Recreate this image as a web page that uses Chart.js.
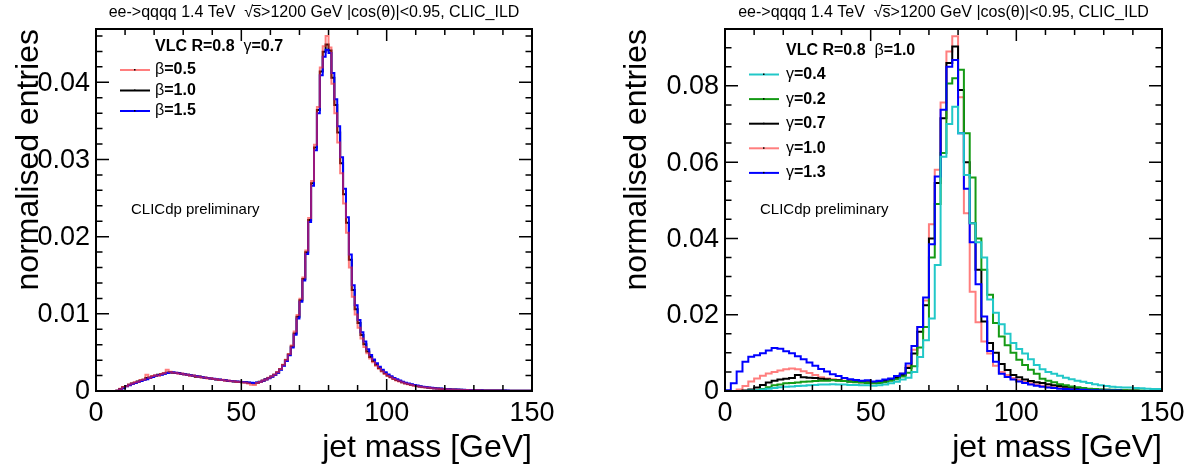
<html>

<head>
    <meta charset="utf-8">
    <title>jet mass</title>
    <script src="https://cdn.jsdelivr.net/npm/chart.js@4.4.1/dist/chart.umd.min.js"></script>
    <style>
        body {
            margin: 0;
            background: #fff;
        }

        #wrap {
            position: relative;
            width: 1198px;
            height: 469px;
        }

        canvas {
            position: absolute;
            top: 0;
        }
    </style>
</head>

<body>
    <div id="wrap">
        <canvas id="chartBeta" width="600" height="469" style="left:0px"></canvas>
        <canvas id="chartGamma" width="598" height="469" style="left:600px"></canvas>
    </div>

    <script>
        // ---- data (normalised entries per bin) ----
        const xTickValues = [0, 50, 100, 150];
        const xTickLabels = ['0', '50', '100', '150'];

        const betaYTickValues = [0, 0.01, 0.02, 0.03, 0.04];
        const betaYTickLabels = ['0', '0.01', '0.02', '0.03', '0.04'];
        const gammaYTickValues = [0, 0.02, 0.04, 0.06, 0.08];
        const gammaYTickLabels = ['0', '0.02', '0.04', '0.06', '0.08'];

        const betaBinWidth = 1;   // GeV
        const gammaBinWidth = 2;  // GeV

        const betaLabels = ['0.5', '1.0', '1.5'];
        const gammaLabels = ['0.4', '0.2', '0.7', '1.0', '1.3'];

        // left pad: VLC R=0.8 gamma=0.7, 1 GeV bins
        const beta05 = [0, 0, 0, 0, 0, 0, 0, 0, 0.00006, 0.00028,
            0.00052, 0.00063, 0.00085, 0.00096, 0.00112, 0.00121, 0.00141, 0.00150, 0.00209, 0.00172,
            0.00194, 0.00205, 0.00199, 0.00221, 0.00233, 0.00276, 0.00251, 0.00237, 0.00235, 0.00224,
            0.00226, 0.00213, 0.00211, 0.00199, 0.00201, 0.00187, 0.00185, 0.00176, 0.00174, 0.00163,
            0.00165, 0.00154, 0.00152, 0.00143, 0.00145, 0.00134, 0.00136, 0.00125, 0.00127, 0.00118,
            0.00120, 0.00111, 0.00106, 0.00097, 0.00082, 0.00079, 0.00103, 0.00116, 0.00137, 0.00149,
            0.00171, 0.00192, 0.00215, 0.00245, 0.00286, 0.00341, 0.00405, 0.00480, 0.00590, 0.00770,
            0.00985, 0.01195, 0.01470, 0.01820, 0.02240, 0.02720, 0.03190, 0.03680, 0.04190, 0.04465,
            0.04600, 0.04450, 0.03980, 0.03600, 0.03220, 0.02820, 0.02430, 0.02050, 0.01600, 0.01220,
            0.00990, 0.00820, 0.00680, 0.00570, 0.00490, 0.00422, 0.00372, 0.00328, 0.00288, 0.00252,
            0.00221, 0.00195, 0.00174, 0.00154, 0.00137, 0.00123, 0.00109, 0.00097, 0.00087, 0.00078,
            0.00069, 0.00063, 0.00056, 0.00050, 0.00046, 0.00041, 0.00037, 0.00033, 0.00030, 0.00027,
            0.00025, 0.00023, 0.00021, 0.00019, 0.00017, 0.00016, 0.00014, 0.00013, 0.00012, 0.00011,
            0.00010, 0.00009, 0.00009, 0.00008, 0.00007, 0.00007, 0.00006, 0.00006, 0.00005, 0.00005,
            0.00004, 0.00004, 0.00004, 0.00003, 0.00003, 0.00003, 0.00003, 0.00002, 0.00002, 0.00002];
        const beta10 = [0, 0, 0, 0, 0, 0, 0, 0, 0.00004, 0.00025,
            0.00048, 0.00066, 0.00081, 0.00098, 0.00106, 0.00124, 0.00137, 0.00146, 0.00168, 0.00176,
            0.00188, 0.00198, 0.00212, 0.00217, 0.00228, 0.00238, 0.00244, 0.00236, 0.00232, 0.00233,
            0.00221, 0.00218, 0.00209, 0.00203, 0.00197, 0.00186, 0.00188, 0.00179, 0.00171, 0.00168,
            0.00161, 0.00157, 0.00150, 0.00147, 0.00141, 0.00138, 0.00131, 0.00128, 0.00124, 0.00121,
            0.00118, 0.00114, 0.00112, 0.00108, 0.00104, 0.00101, 0.00108, 0.00119, 0.00134, 0.00151,
            0.00168, 0.00189, 0.00212, 0.00241, 0.00281, 0.00335, 0.00398, 0.00472, 0.00576, 0.00745,
            0.00962, 0.01175, 0.01452, 0.01798, 0.02215, 0.02690, 0.03155, 0.03640, 0.04140, 0.04395,
            0.04490, 0.04410, 0.04060, 0.03705, 0.03350, 0.02950, 0.02550, 0.02180, 0.01700, 0.01310,
            0.01060, 0.00880, 0.00725, 0.00605, 0.00512, 0.00442, 0.00388, 0.00340, 0.00298, 0.00262,
            0.00229, 0.00202, 0.00181, 0.00160, 0.00143, 0.00129, 0.00114, 0.00102, 0.00091, 0.00082,
            0.00073, 0.00066, 0.00059, 0.00053, 0.00048, 0.00043, 0.00039, 0.00035, 0.00032, 0.00029,
            0.00026, 0.00024, 0.00022, 0.00020, 0.00018, 0.00017, 0.00015, 0.00014, 0.00013, 0.00012,
            0.00011, 0.00010, 0.00009, 0.00009, 0.00008, 0.00007, 0.00007, 0.00006, 0.00006, 0.00005,
            0.00005, 0.00005, 0.00004, 0.00004, 0.00004, 0.00003, 0.00003, 0.00003, 0.00003, 0.00002];
        const beta15 = [0, 0, 0, 0, 0, 0, 0, 0, 0.00002, 0.00018,
            0.00040, 0.00061, 0.00074, 0.00092, 0.00103, 0.00116, 0.00130, 0.00141, 0.00152, 0.00169,
            0.00180, 0.00196, 0.00203, 0.00211, 0.00224, 0.00232, 0.00240, 0.00243, 0.00235, 0.00231,
            0.00223, 0.00216, 0.00211, 0.00205, 0.00196, 0.00194, 0.00185, 0.00181, 0.00172, 0.00170,
            0.00163, 0.00158, 0.00151, 0.00149, 0.00142, 0.00139, 0.00133, 0.00129, 0.00126, 0.00122,
            0.00119, 0.00116, 0.00113, 0.00110, 0.00106, 0.00104, 0.00109, 0.00118, 0.00132, 0.00148,
            0.00165, 0.00185, 0.00208, 0.00236, 0.00275, 0.00328, 0.00390, 0.00462, 0.00563, 0.00728,
            0.00940, 0.01155, 0.01432, 0.01776, 0.02190, 0.02660, 0.03120, 0.03600, 0.04090, 0.04330,
            0.04420, 0.04380, 0.04120, 0.03780, 0.03430, 0.03030, 0.02620, 0.02250, 0.01770, 0.01370,
            0.01110, 0.00920, 0.00760, 0.00640, 0.00540, 0.00466, 0.00408, 0.00358, 0.00314, 0.00276,
            0.00242, 0.00214, 0.00191, 0.00169, 0.00151, 0.00136, 0.00120, 0.00108, 0.00096, 0.00087,
            0.00077, 0.00070, 0.00063, 0.00056, 0.00051, 0.00046, 0.00041, 0.00037, 0.00034, 0.00031,
            0.00028, 0.00025, 0.00023, 0.00021, 0.00019, 0.00018, 0.00016, 0.00015, 0.00014, 0.00013,
            0.00012, 0.00011, 0.00010, 0.00009, 0.00008, 0.00008, 0.00007, 0.00007, 0.00006, 0.00006,
            0.00005, 0.00005, 0.00005, 0.00004, 0.00004, 0.00004, 0.00003, 0.00003, 0.00003, 0.00002];

        // right pad: VLC R=0.8 beta=1.0, 2 GeV bins
        const gamma04 = [0, 0, 0, 0, 0, 0.0001, 0.0002, 0.0004, 0.0006, 0.0008,
            0.0010, 0.0011, 0.0012, 0.0013, 0.0014, 0.0015, 0.0016, 0.0017, 0.0017, 0.0018,
            0.0017, 0.0017, 0.0016, 0.0016, 0.0015, 0.0015, 0.0014, 0.0015, 0.0017, 0.0020,
            0.0024, 0.0030, 0.0035, 0.0050, 0.0089, 0.0133, 0.0190, 0.0330, 0.0614, 0.0700,
            0.0745, 0.0676, 0.0566, 0.0440, 0.0390, 0.0350, 0.0240, 0.0205, 0.0175, 0.0150,
            0.0126, 0.0110, 0.0098, 0.0083, 0.0068, 0.0057, 0.0050, 0.0045, 0.0040, 0.0035,
            0.0031, 0.0027, 0.0024, 0.0021, 0.0018, 0.0015, 0.0013, 0.0011, 0.0010, 0.0009,
            0.0009, 0.0008, 0.0007, 0.0006, 0.0005];
        const gamma02 = [0, 0, 0, 0, 0, 0, 0.0001, 0.0005, 0.0010, 0.0015,
            0.0017, 0.0020, 0.0021, 0.0022, 0.0024, 0.0025, 0.0026, 0.0027, 0.0027, 0.0028,
            0.0027, 0.0026, 0.0024, 0.0023, 0.0022, 0.0021, 0.0020, 0.0021, 0.0023, 0.0027,
            0.0031, 0.0038, 0.0048, 0.0065, 0.0114, 0.0168, 0.0350, 0.0490, 0.0624, 0.0806,
            0.0820, 0.0842, 0.0676, 0.0560, 0.0400, 0.0318, 0.0252, 0.0178, 0.0143, 0.0120,
            0.0100, 0.0082, 0.0068, 0.0056, 0.0045, 0.0032, 0.0027, 0.0023, 0.0018, 0.0015,
            0.0012, 0.0010, 0.0008, 0.0006, 0.0005, 0.0004, 0.0003, 0.0003, 0.0002, 0.0002,
            0.0001, 0.0001, 0.0001, 0, 0];
        const gamma07 = [0, 0, 0, 0, 0.0001, 0.0004, 0.0009, 0.0016, 0.0022, 0.0027,
            0.0030, 0.0032, 0.0034, 0.0042, 0.0036, 0.0035, 0.0034, 0.0032, 0.0031, 0.0029,
            0.0028, 0.0026, 0.0025, 0.0024, 0.0024, 0.0023, 0.0023, 0.0024, 0.0026, 0.0029,
            0.0034, 0.0042, 0.0060, 0.0098, 0.0155, 0.0225, 0.0400, 0.0545, 0.0715, 0.0860,
            0.0903, 0.0789, 0.0600, 0.0440, 0.0318, 0.0182, 0.0126, 0.0100, 0.0071, 0.0055,
            0.0042, 0.0036, 0.0030, 0.0026, 0.0023, 0.0021, 0.0018, 0.0015, 0.0013, 0.0011,
            0.0009, 0.0008, 0.0006, 0.0005, 0.0004, 0.0003, 0.0003, 0.0002, 0.0002, 0.0001,
            0.0001, 0.0001, 0, 0, 0];
        const gamma10 = [0, 0, 0, 0.0004, 0.0013, 0.0025, 0.0033, 0.0040, 0.0046, 0.0050,
            0.0054, 0.0057, 0.0059, 0.0057, 0.0052, 0.0047, 0.0042, 0.0036, 0.0033, 0.0031,
            0.0029, 0.0027, 0.0026, 0.0024, 0.0022, 0.0021, 0.0020, 0.0023, 0.0025, 0.0030,
            0.0035, 0.0045, 0.0065, 0.0108, 0.0168, 0.0237, 0.0437, 0.0580, 0.0756, 0.0890,
            0.0930, 0.0770, 0.0466, 0.0260, 0.0180, 0.0130, 0.0098, 0.0066, 0.0050, 0.0042,
            0.0034, 0.0029, 0.0024, 0.0020, 0.0017, 0.0014, 0.0012, 0.0010, 0.0008, 0.0007,
            0.0005, 0.0004, 0.0004, 0.0003, 0.0002, 0.0002, 0.0002, 0.0001, 0.0001, 0.0001,
            0, 0, 0, 0, 0];
        const gamma13 = [0, 0.0002, 0.0020, 0.0051, 0.0077, 0.0090, 0.0094, 0.0099, 0.0106, 0.0113,
            0.0111, 0.0104, 0.0099, 0.0091, 0.0083, 0.0075, 0.0066, 0.0058, 0.0051, 0.0044,
            0.0039, 0.0034, 0.0031, 0.0029, 0.0027, 0.0028, 0.0025, 0.0027, 0.0030, 0.0033,
            0.0039, 0.0046, 0.0072, 0.0118, 0.0168, 0.0245, 0.0385, 0.0562, 0.0737, 0.0850,
            0.0868, 0.0676, 0.0530, 0.0390, 0.0280, 0.0195, 0.0105, 0.0077, 0.0045, 0.0037,
            0.0030, 0.0025, 0.0021, 0.0017, 0.0014, 0.0011, 0.0009, 0.0008, 0.0006, 0.0005,
            0.0004, 0.0003, 0.0003, 0.0002, 0.0002, 0.0001, 0.0001, 0.0001, 0.0001, 0,
            0, 0, 0, 0, 0];

        const FONT = '"Liberation Sans", Arial, Helvetica, sans-serif';
        const TITLE_A = 'ee->qqqq 1.4 TeV  \u221A';
        const TITLE_S = 's';
        const TITLE_B = '>1200 GeV |cos(\u03B8)|<0.95, CLIC_ILD';

        // turn bin contents into step points (x = lower bin edge)
        function histPoints(values, width) {
            let pts = values.map((v, i) => ({ x: i * width, y: v }));
            pts.push({ x: values.length * width, y: values[values.length - 1] });
            return pts;
        }

        function drawRich(ctx, x, y, parts, size) {
            for (let p of parts) {
                ctx.font = (p.bold ? 'bold ' : '') + size + 'px ' + FONT;
                ctx.fillText(p.t, x, y);
                x += ctx.measureText(p.t).width;
            }
            return x;
        }

        function rootPlugin(panel) {
            return {
                id: 'rootStyle',
                afterDatasetsDraw(chart) {
                    let ctx = chart.ctx;
                    let a = chart.chartArea;
                    let xs = chart.scales.x;
                    let ys = chart.scales.y;
                    ctx.save();
                    ctx.fillStyle = '#000';
                    ctx.strokeStyle = '#000';

                    // frame
                    ctx.lineWidth = 2;
                    ctx.strokeRect(a.left, a.top, a.right - a.left, a.bottom - a.top);

                    // ticks, inward on all four sides
                    ctx.lineWidth = 1.5;
                    ctx.beginPath();
                    for (let v = 0; v <= 150; v += 10) {
                        let px = xs.getPixelForValue(v);
                        let len = v % 50 === 0 ? 12 : 6;
                        ctx.moveTo(px, a.bottom); ctx.lineTo(px, a.bottom - len);
                        ctx.moveTo(px, a.top); ctx.lineTo(px, a.top + len);
                    }
                    for (let n = 0; n * panel.yMinor <= panel.yMax; n++) {
                        let py = ys.getPixelForValue(n * panel.yMinor);
                        let len = n % panel.minorPerMajor === 0 ? 13 : 6.5;
                        ctx.moveTo(a.left, py); ctx.lineTo(a.left + len, py);
                        ctx.moveTo(a.right, py); ctx.lineTo(a.right - len, py);
                    }
                    ctx.stroke();

                    // tick labels
                    ctx.font = '27px ' + FONT;
                    ctx.textAlign = 'center';
                    ctx.textBaseline = 'top';
                    xTickValues.forEach((v, i) => {
                        ctx.fillText(xTickLabels[i], xs.getPixelForValue(v), a.bottom + 9);
                    });
                    ctx.textAlign = 'right';
                    ctx.textBaseline = 'middle';
                    panel.yTickValues.forEach((v, i) => {
                        ctx.fillText(panel.yTickLabels[i], a.left - 6, ys.getPixelForValue(v) + 1);
                    });

                    // axis titles
                    ctx.font = '32px ' + FONT;
                    ctx.textAlign = 'right';
                    ctx.textBaseline = 'alphabetic';
                    ctx.fillText('jet mass [GeV]', a.right, 457);
                    ctx.save();
                    ctx.translate(panel.yTitleX, a.top);
                    ctx.rotate(-Math.PI / 2);
                    ctx.fillText('normalised entries', 0, 0);
                    ctx.restore();

                    // pad title with sqrt overline
                    ctx.font = '16px ' + FONT;
                    ctx.textAlign = 'left';
                    let wa = ctx.measureText(TITLE_A).width;
                    let ws = ctx.measureText(TITLE_S).width;
                    let wb = ctx.measureText(TITLE_B).width;
                    let tx = (a.left + a.right) / 2 - (wa + ws + wb) / 2;
                    ctx.fillText(TITLE_A, tx, 17);
                    ctx.fillText(TITLE_S, tx + wa, 17);
                    ctx.fillText(TITLE_B, tx + wa + ws, 17);
                    ctx.lineWidth = 1;
                    ctx.beginPath();
                    ctx.moveTo(tx + wa - 1, 5.5);
                    ctx.lineTo(tx + wa + ws, 5.5);
                    ctx.stroke();

                    // legend
                    ctx.textBaseline = 'middle';
                    drawRich(ctx, panel.legendTextX, panel.headerY, panel.header, 16);
                    panel.entries.forEach((e, i) => {
                        let y = panel.entryY0 + i * panel.entryStep;
                        ctx.strokeStyle = e.color;
                        ctx.lineWidth = 2;
                        ctx.beginPath();
                        ctx.moveTo(panel.legendLineX, y);
                        ctx.lineTo(panel.legendLineX + 30, y);
                        ctx.stroke();
                        ctx.fillStyle = '#000';
                        ctx.fillRect(panel.legendLineX + 14, y - 1, 1.5, 1.5);
                        drawRich(ctx, panel.legendTextX, y, [
                            { t: e.greek, bold: false },
                            { t: '=' + e.label, bold: true }
                        ], 16);
                    });

                    // preliminary label
                    ctx.font = '15px ' + FONT;
                    ctx.fillText('CLICdp preliminary', a.left + 35, 210);
                    ctx.restore();
                }
            };
        }

        function makePanel(canvasId, pad, panel) {
            let datasets = panel.entries.map(e => ({
                label: e.greek + '=' + e.label,
                data: histPoints(e.values, panel.binWidth),
                borderColor: e.color,
                borderWidth: 2,
                stepped: 'after',
                pointRadius: 0,
                fill: false,
                tension: 0,
                order: e.order
            }));
            return new Chart(document.getElementById(canvasId), {
                type: 'line',
                data: { datasets: datasets },
                options: {
                    responsive: false,
                    animation: false,
                    devicePixelRatio: 1,
                    events: [],
                    layout: { padding: pad },
                    plugins: { legend: { display: false }, tooltip: { enabled: false } },
                    scales: {
                        x: { type: 'linear', min: 0, max: 150, display: false },
                        y: { type: 'linear', min: 0, max: panel.yMax, display: false }
                    }
                },
                plugins: [rootPlugin(panel)]
            });
        }

        makePanel('chartBeta', { left: 96, top: 29, right: 68, bottom: 78 }, {
            binWidth: betaBinWidth,
            yMax: 0.0469,
            yMinor: 0.002,
            minorPerMajor: 5,
            yTickValues: betaYTickValues,
            yTickLabels: betaYTickLabels,
            yTitleX: 38,
            header: [{ t: 'VLC R=0.8  ', bold: true }, { t: '\u03B3', bold: false }, { t: '=0.7', bold: true }],
            headerY: 47,
            legendLineX: 120,
            legendTextX: 155,
            entryY0: 70,
            entryStep: 20.5,
            entries: [
                { greek: '\u03B2', label: betaLabels[0], values: beta05, color: 'rgba(255,40,40,0.6)', order: 0 },
                { greek: '\u03B2', label: betaLabels[1], values: beta10, color: '#000000', order: 2 },
                { greek: '\u03B2', label: betaLabels[2], values: beta15, color: '#0000ff', order: 1 }
            ]
        });

        makePanel('chartGamma', { left: 125, top: 29, right: 36, bottom: 78 }, {
            binWidth: gammaBinWidth,
            yMax: 0.0949,
            yMinor: 0.005,
            minorPerMajor: 4,
            yTickValues: gammaYTickValues,
            yTickLabels: gammaYTickLabels,
            yTitleX: 46,
            header: [{ t: 'VLC R=0.8  ', bold: true }, { t: '\u03B2', bold: false }, { t: '=1.0', bold: true }],
            headerY: 51,
            legendLineX: 149,
            legendTextX: 186,
            entryY0: 74.5,
            entryStep: 24.6,
            entries: [
                { greek: '\u03B3', label: gammaLabels[0], values: gamma04, color: '#22c8c8', order: 0 },
                { greek: '\u03B3', label: gammaLabels[1], values: gamma02, color: '#159a15', order: 2 },
                { greek: '\u03B3', label: gammaLabels[2], values: gamma07, color: '#000000', order: 3 },
                { greek: '\u03B3', label: gammaLabels[3], values: gamma10, color: 'rgba(255,40,40,0.6)', order: 4 },
                { greek: '\u03B3', label: gammaLabels[4], values: gamma13, color: '#0000ff', order: 1 }
            ]
        });
    </script>
</body>

</html>
